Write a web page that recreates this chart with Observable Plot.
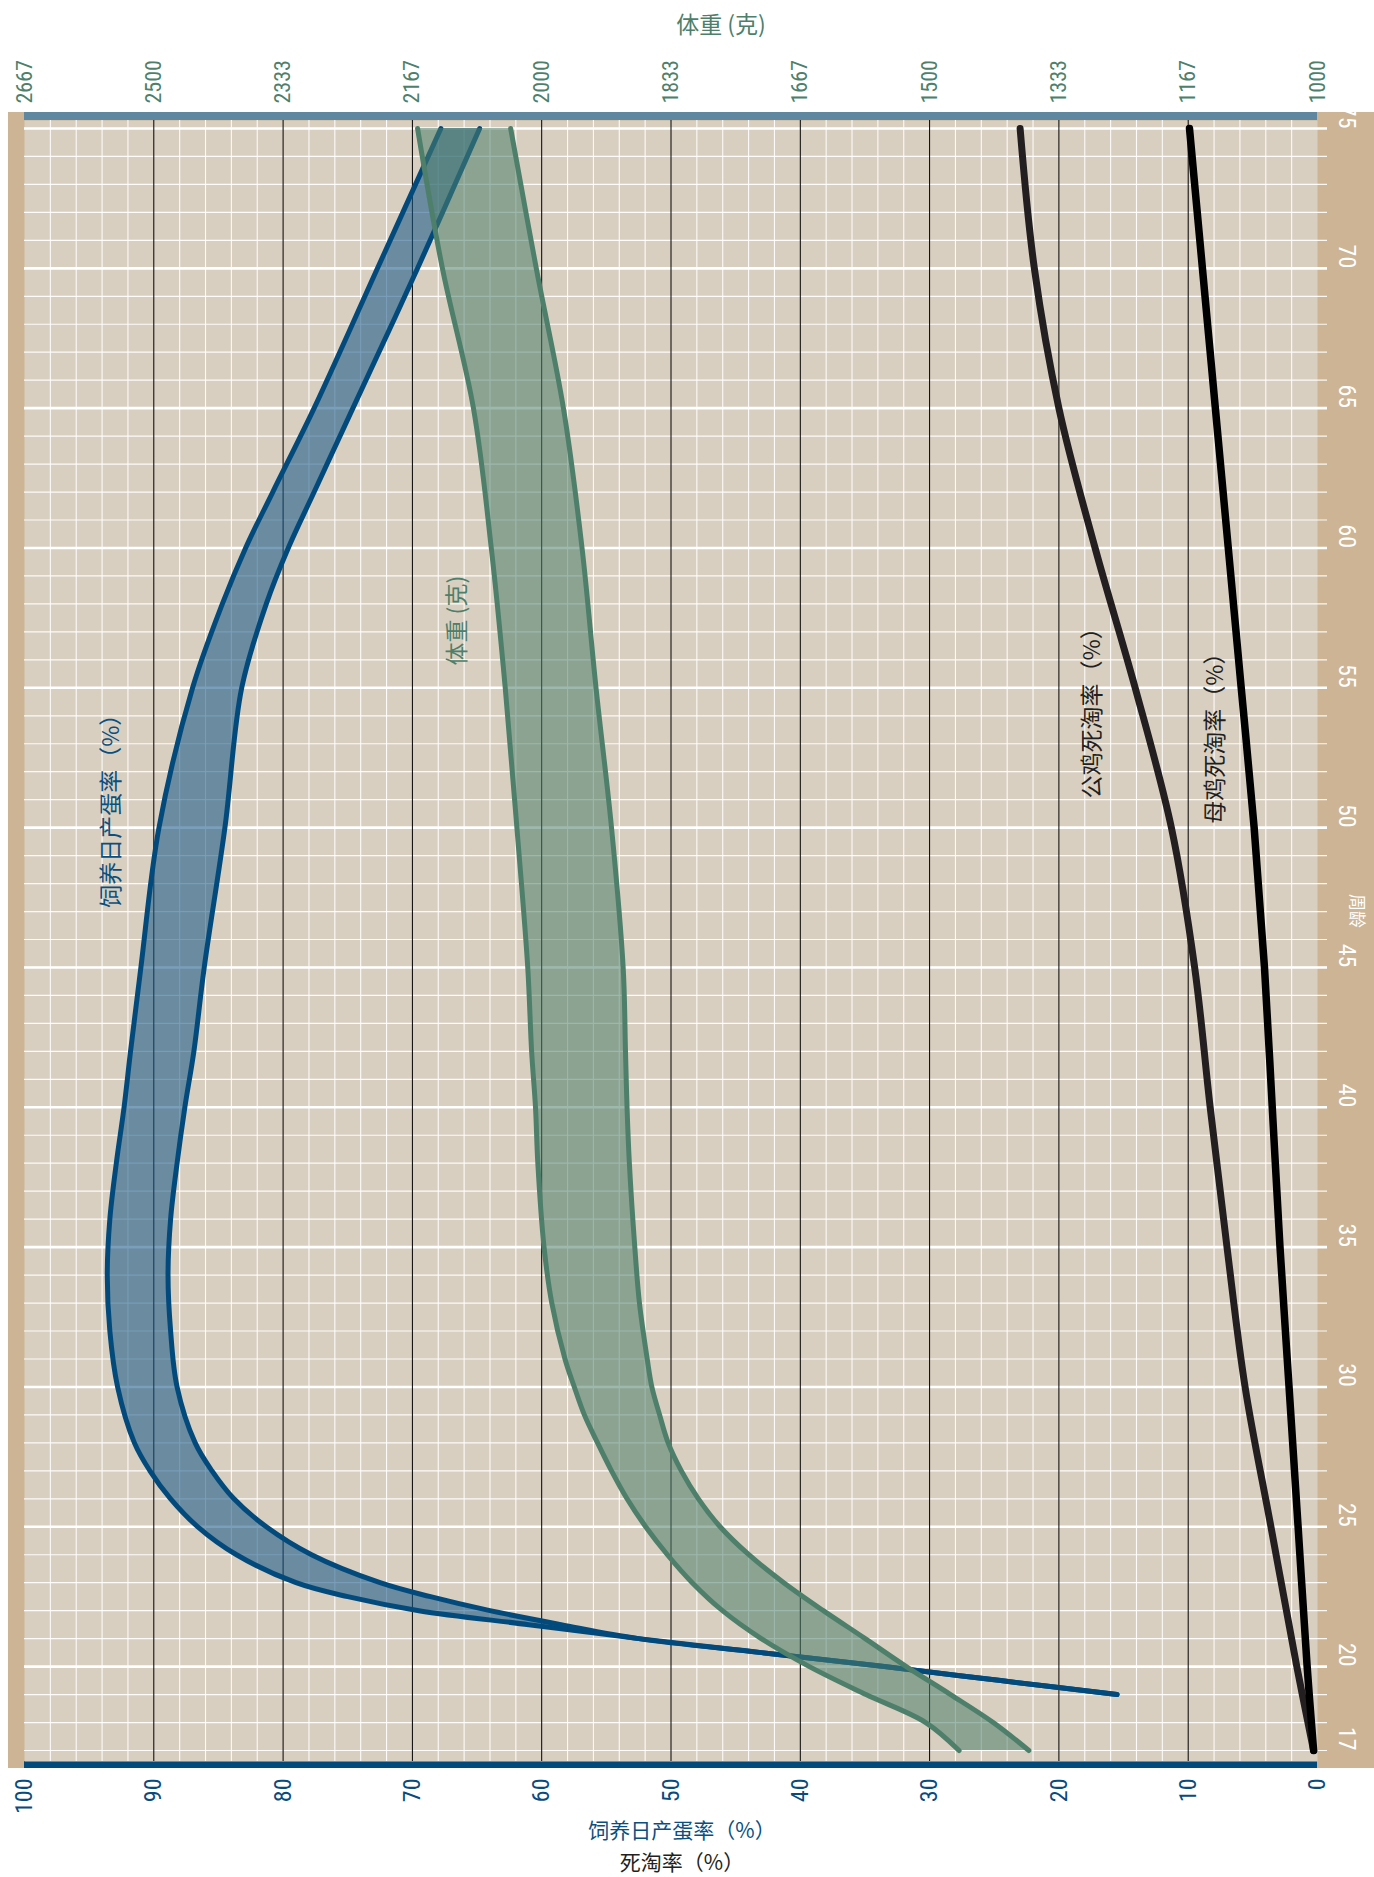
<!DOCTYPE html>
<html>
<head>
<meta charset="utf-8">
<script src="https://cdn.jsdelivr.net/npm/d3@7"></script>
<script src="https://cdn.jsdelivr.net/npm/@observablehq/plot@0.6"></script>
<style>
html, body { margin: 0; padding: 0; background: #ffffff; overflow: hidden; }
#chart svg { display: block; }
</style>
</head>
<body>
<div id="chart"></div>
<script>
// ---------------- data ----------------
const pctTicks = [0, 10, 20, 30, 40, 50, 60, 70, 80, 90, 100];
const weightTickLabels = ["1000", "1167", "1333", "1500", "1667", "1833", "2000", "2167", "2333", "2500", "2667"];
const weekTickLabels = [17, 20, 25, 30, 35, 40, 45, 50, 55, 60, 65, 70, 75];
const weeksAll = d3.range(17, 76);
const weeksMajor = [20, 25, 30, 35, 40, 45, 50, 55, 60, 65, 70, 75];
const pctMinor = d3.range(2, 100, 2).filter(d => d % 10 !== 0);
const pctMajor = [10, 20, 30, 40, 50, 60, 70, 80, 90];

// hen-day egg production (%), band between high and low standard
const eggWeeks = [19, 19.5, 20, 20.5, 21, 21.5, 22, 22.5, 23, 24, 25, 26, 27, 28, 30, 32, 34, 36, 38, 40, 42, 45, 50, 55, 58, 60, 62, 65, 70, 75];
const eggHigh  = [15.5, 24.5, 33.5, 43, 52.5, 61, 69.5, 75, 79, 83.6, 86.6, 88.7, 90.3, 91.5, 92.8, 93.4, 93.6, 93.4, 92.9, 92.3, 91.8, 91.0, 89.6, 87.0, 84.7, 82.9, 80.8, 77.6, 72.7, 67.8];
const eggLow   = [15.5, 24.5, 33.5, 43, 52.5, 58.5, 64, 68.6, 72.5, 77.8, 81.3, 83.8, 85.5, 86.8, 88.2, 88.7, 88.9, 88.7, 88.2, 87.6, 86.9, 86.1, 84.5, 83.2, 81.3, 79.6, 77.6, 74.6, 69.6, 64.8];

// body weight (g), band between high and low standard
const bwWeeks = [17, 18, 19, 20, 21, 22, 23, 24, 25, 26, 27, 28, 29, 30, 31, 33, 35, 38, 40, 42, 45, 50, 55, 60, 65, 70, 75];
const bwHigh  = [1462, 1505, 1582, 1655, 1717, 1767, 1806, 1838, 1866, 1890, 1910, 1928, 1945, 1958, 1970, 1987, 1997, 2005, 2008, 2013, 2018, 2032, 2047, 2065, 2088, 2128, 2160];
const bwLow   = [1372, 1418, 1473, 1530, 1583, 1637, 1688, 1733, 1770, 1798, 1820, 1837, 1848, 1858, 1864, 1874, 1880, 1887, 1890, 1892, 1895, 1910, 1930, 1948, 1972, 2007, 2040];

// cumulative mortality (%)
const mortWeeks  = [17, 20, 25, 30, 35, 40, 45, 50, 55, 60, 65, 70, 75];
const maleMort   = [0.3, 1.6, 3.6, 5.6, 7.0, 8.3, 9.5, 11.3, 14.1, 17.2, 20.0, 21.9, 23.0];
const femaleMort = [0.3, 0.8, 1.5, 2.2, 2.9, 3.5, 4.1, 4.9, 5.9, 6.9, 7.9, 8.9, 9.9];

// series labels (drawn at data positions: week, % axis)
const seriesLabels = [
  {name: "饲养日产蛋率（%）", week: 50.8, pct: 93.3, color: "#0b4f80"},
  {name: "体重 (克)",         week: 57.4, pct: 66.5, color: "#4d7f6b"},
  {name: "公鸡死淘率（%）",   week: 54.3, pct: 17.4, color: "#231f20"},
  {name: "母鸡死淘率（%）",   week: 53.4, pct: 7.9,  color: "#231f20"}
];

// ---------------- derived tables ----------------
const W0 = +weightTickLabels[0];
const W100 = 2666.67;
const toPct = w => (w - W0) / (W100 - W0) * 100;

const eggRows = eggWeeks.map((w, i) => ({week: w, high: eggHigh[i], low: eggLow[i]}));
const bwRows = bwWeeks.map((w, i) => ({week: w, high: toPct(bwHigh[i]), low: toPct(bwLow[i])}));
const maleRows = mortWeeks.map((w, i) => ({week: w, v: maleMort[i]}));
const femaleRows = mortWeeks.map((w, i) => ({week: w, v: femaleMort[i]}));

// ---------------- style ----------------
const CJK = "'Noto Sans CJK SC', 'Noto Sans', sans-serif";
const NUM = "'Liberation Sans Narrow', 'Roboto Condensed', 'DejaVu Sans Condensed', 'Arial Narrow', sans-serif";
const BLUE = "#034a7c";
const GREEN = "#4d7f6b";
const BG = "#d9cfc0";
const TAN = "#ccb495";
const CURVE = "catmull-rom";

const Wd = 1374, Ht = 1877;
const mL = 24, mR = 57, mT = 120, mB = 116;

const plot = Plot.plot({
  width: Wd,
  height: Ht,
  marginLeft: mL,
  marginRight: mR,
  marginTop: mT,
  marginBottom: mB,
  insetTop: 8,
  insetBottom: 11,
  x: {domain: [0, 100], reverse: true},
  y: {domain: [17, 75], axis: null},
  style: {fontFamily: CJK, background: "transparent", overflow: "hidden"},
  marks: [
    Plot.frame({fill: BG, stroke: null}),
    Plot.ruleX(pctMinor, {stroke: "#ffffff", strokeWidth: 1.1, strokeOpacity: 0.9}),
    Plot.ruleY(weeksAll, {stroke: "#ffffff", strokeWidth: 1.2, strokeOpacity: 0.9, insetRight: -10}),
    Plot.ruleY(weeksMajor, {stroke: "#ffffff", strokeWidth: 2.6, insetRight: -10}),
    Plot.ruleX(pctMajor, {stroke: "#000000", strokeWidth: 1}),

    // egg production band
    Plot.areaX(eggRows, {y: "week", x1: "low", x2: "high", fill: "#1a5a88", fillOpacity: 0.58, curve: CURVE}),
    Plot.line(eggRows, {x: "high", y: "week", stroke: BLUE, strokeWidth: 5, curve: CURVE, strokeLinecap: "round"}),
    Plot.line(eggRows, {x: "low", y: "week", stroke: BLUE, strokeWidth: 5, curve: CURVE, strokeLinecap: "round"}),

    // body weight band
    Plot.areaX(bwRows, {y: "week", x1: "low", x2: "high", fill: GREEN, fillOpacity: 0.55, curve: CURVE}),
    Plot.line(bwRows, {x: "high", y: "week", stroke: GREEN, strokeWidth: 5, curve: CURVE, strokeLinecap: "round"}),
    Plot.line(bwRows, {x: "low", y: "week", stroke: GREEN, strokeWidth: 5, curve: CURVE, strokeLinecap: "round"}),

    // mortality
    Plot.line(maleRows, {x: "v", y: "week", stroke: "#231f20", strokeWidth: 7, curve: CURVE, strokeLinecap: "round"}),
    Plot.line(femaleRows, {x: "v", y: "week", stroke: "#000000", strokeWidth: 7.5, curve: CURVE, strokeLinecap: "round"}),

    // series labels
    ...seriesLabels.map(d => Plot.text([d], {x: "pct", y: "week", text: "name", rotate: -90, fill: d.color, fontSize: 23, fontFamily: CJK})),

    // bottom % axis
    Plot.axisX(pctTicks, {anchor: "bottom", tickSize: 0, tickRotate: -90, tickPadding: 17, fill: "#0a4b7d", fontSize: 24, fontFamily: NUM, label: null, tickFormat: d => String(d)}),
    // top body-weight axis
    Plot.axisX(pctTicks, {anchor: "top", tickSize: 0, tickRotate: -90, tickPadding: 17, fill: GREEN, fontSize: 22, fontFamily: NUM, label: null, tickFormat: d => weightTickLabels[pctTicks.indexOf(d)]}),
    // right week axis labels
    Plot.text(weekTickLabels, {y: d => d, text: d => String(d), frameAnchor: "right", dx: 29, rotate: 90, fill: "#ffffff", fontSize: 24, fontFamily: NUM}),
    Plot.text(["周龄"], {text: d => d, frameAnchor: "right", dx: 39, dy: -13, rotate: 90, fill: "#ffffff", fontSize: 17, fontFamily: CJK}),

    // axis titles
    Plot.text(["体重 (克)"], {text: d => d, frameAnchor: "top", dx: 50, dy: -104, fill: GREEN, fontSize: 23, fontFamily: CJK}),
    Plot.text(["饲养日产蛋率（%）\n死淘率（%）"], {text: d => d, frameAnchor: "bottom", dx: 11, dy: 108, lineHeight: 1.48, fill: "#0b4f80", fontSize: 21, fontFamily: CJK})
  ]
});

// second line of the bottom title is the mortality axis title (dark)
d3.select(plot).selectAll("text").each(function() {
  const ts = this.querySelectorAll("tspan");
  if (ts.length === 2 && ts[1].textContent === "死淘率（%）") ts[1].setAttribute("fill", "#231f20");
});

// decorative border strips behind the plot (positions from the plot's frame)
const xr = plot.scale("x").range;
const fx0 = Math.min(...xr), fx1 = Math.max(...xr);
const fy0 = mT, fy1 = Ht - mB;
const deco = d3.create("svg:g");
deco.append("rect").attr("x", fx0 - 16).attr("y", fy0 - 8).attr("width", Wd - (fx0 - 16)).attr("height", fy1 - fy0 + 15).attr("fill", TAN);
deco.append("rect").attr("x", fx0).attr("y", fy0 - 8).attr("width", fx1 - fx0).attr("height", 8).attr("fill", "#5f88a0");
deco.append("rect").attr("x", fx0).attr("y", fy1).attr("width", fx1 - fx0).attr("height", 7).attr("fill", BLUE);
const styleEl = plot.querySelector("style");
plot.insertBefore(deco.node(), styleEl ? styleEl.nextSibling : plot.firstChild);

document.getElementById("chart").appendChild(plot);
</script>
</body>
</html>
